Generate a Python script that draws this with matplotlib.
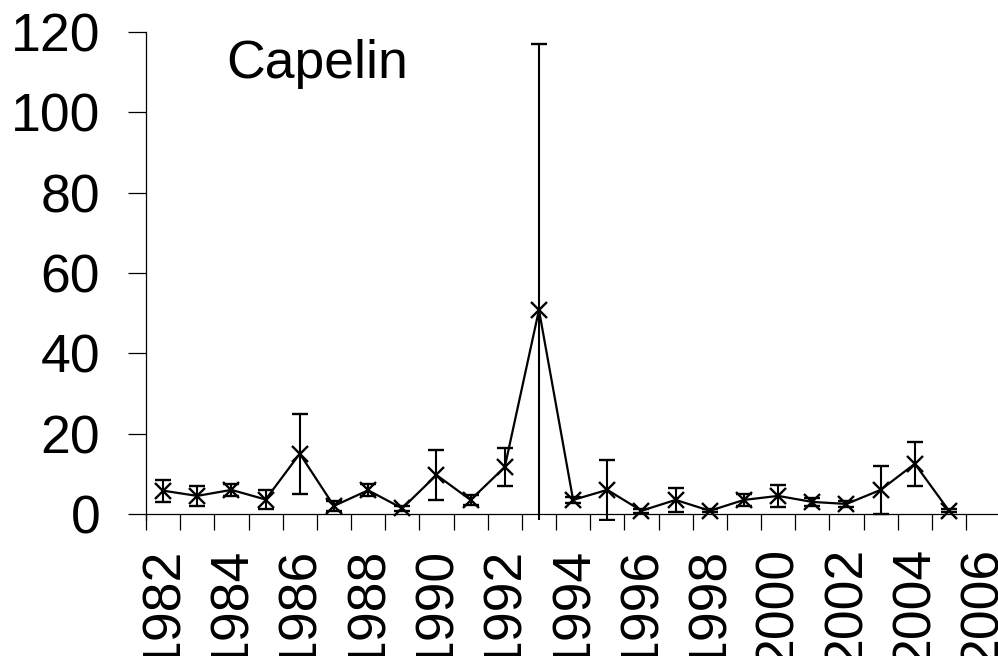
import matplotlib
matplotlib.use("Agg")
import matplotlib.pyplot as plt
import numpy as np

plt.rcParams['font.family'] = ['Liberation Sans', 'DejaVu Sans']

# Survey years shown as categories on the x axis
years = list(range(1982, 2007))
# Annual index and its error, 1982-2005 (no value for 2006)
index_values = [5.8, 4.5, 6.0, 3.6, 15.0, 2.0, 5.9, 1.4, 9.7, 3.5, 11.7, 50.8,
                3.5, 6.0, 0.8, 3.5, 0.8, 3.5, 4.5, 3.0, 2.5, 6.0, 12.5, 0.8]
index_errors = [2.7, 2.5, 1.5, 2.3, 10.0, 1.2, 1.5, 0.6, 6.2, 1.2, 4.7, 66.3,
                0.8, 7.4, 0.5, 3.0, 0.4, 1.5, 2.8, 1.0, 0.8, 6.0, 5.5, 0.4]
y_ticks = [0, 20, 40, 60, 80, 100, 120]
title_text = "Capelin"

W, H = 998, 656
FS = 38.5
fig = plt.figure(figsize=(W / 100, H / 100), dpi=100)

# plot area: x axis spans 25 categories, y from slightly below 0 to 120
left_px, right_px = 146, 146 + 25 * 34.17
top_px, bottom_px = 32, 520.4
ax = fig.add_axes([left_px / W, 1 - bottom_px / H,
                   (right_px - left_px) / W, (bottom_px - top_px) / H])

n_cat = len(years)
x = np.arange(len(index_values)) + 0.5
ax.errorbar(x, index_values, yerr=index_errors, color='black', lw=1.6,
            marker='x', markersize=11, markeredgewidth=1.7,
            ecolor='black', elinewidth=1.5, capsize=5.8, capthick=1.6,
            zorder=3)

ax.set_xlim(0, n_cat)
ax.set_ylim(-1.6, 120)

for s in ['top', 'right']:
    ax.spines[s].set_visible(False)
ax.spines['bottom'].set_position(('data', 0))
for s in ['left', 'bottom']:
    ax.spines[s].set_linewidth(0.9)

# y axis
ax.set_yticks(y_ticks)
ax.set_yticklabels([str(v) for v in y_ticks])
ax.tick_params(axis='y', direction='out', length=13, width=0.9,
               labelsize=FS, pad=20)

# x axis: tick marks between categories, labels under every other year
ax.set_xticks(np.arange(0, n_cat + 1))
ax.set_xticklabels([])
ax.tick_params(axis='x', which='major', direction='out', length=11.5, width=0.9)
ax.set_xticks(np.arange(0, n_cat, 2) + 0.5, minor=True)
ax.set_xticklabels([str(y) for y in years[::2]], minor=True, rotation=90)
ax.tick_params(axis='x', which='minor', length=0, labelsize=FS, pad=23.5)

fig.text(226 / W, 1 - 78 / H, title_text, fontsize=FS, ha='left',
         va='baseline')

fig.savefig("out.png", dpi=100)
